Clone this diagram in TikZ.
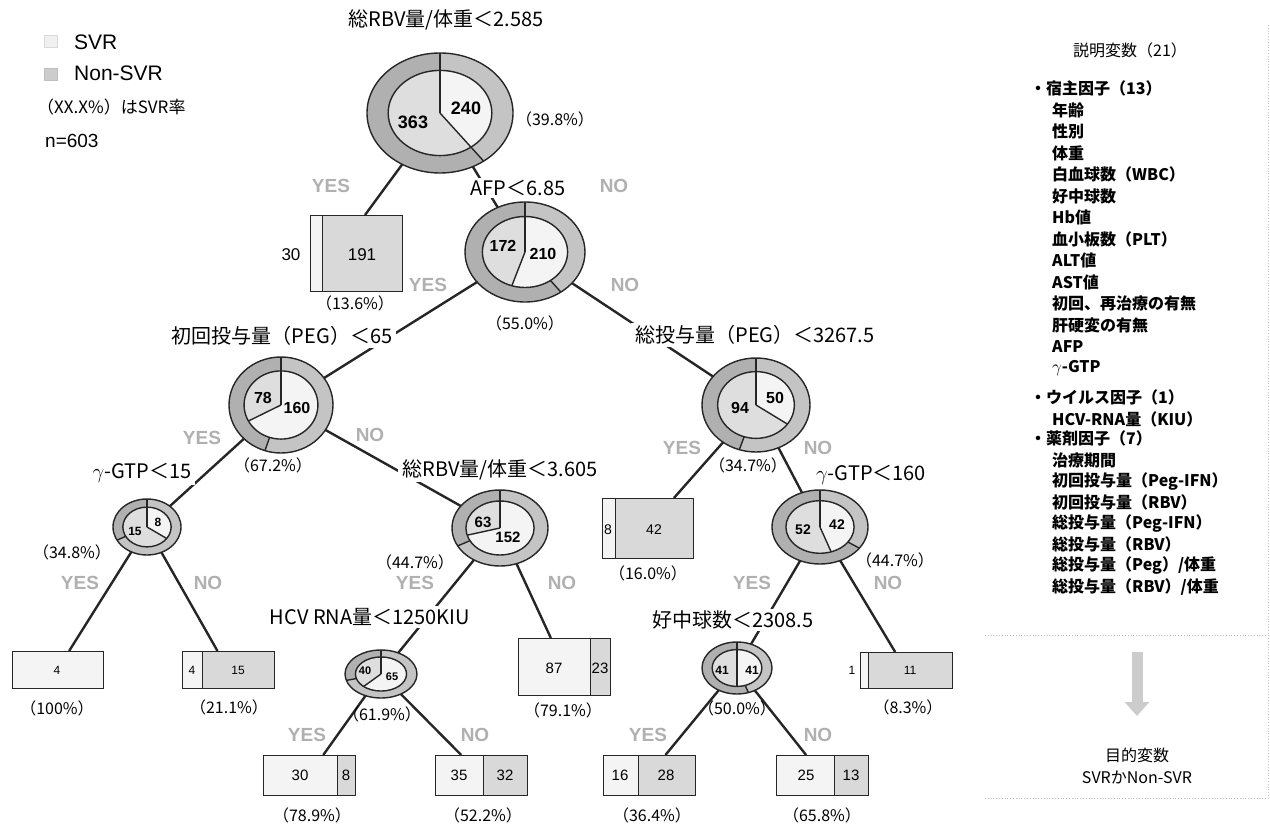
\documentclass[tikz,border=0pt]{standalone}
\usepackage{fontspec}
\setmainfont{Noto Sans CJK JP}
\newfontfamily\latinfont{Liberation Sans}
\usetikzlibrary{shapes.geometric,arrows.meta}

% ring node: name, centre, x radius, y radius, SVR share (%), SVR share of parent (%)
\newcommand{\ringnode}[6]{%
  \node[ringshape, minimum width=2*#3pt, minimum height=2*#4pt] (#1) at #2 {};
  \fill[outer non] (#1.center) ellipse[x radius=#3, y radius=#4];
  \fill[outer svr] (#1.center) -- ++(-90:#3 and #4)
    arc[start angle=-90, delta angle=3.6*#6, x radius=#3, y radius=#4] -- cycle;
  \draw[ring line] (#1.center) -- ++(3.6*#6-90:#3 and #4);
  \fill[inner non] (#1.center) ellipse[x radius=0.71*#3, y radius=0.71*#4];
  \fill[inner svr] (#1.center) -- ++(-90:0.71*#3 and 0.71*#4)
    arc[start angle=-90, delta angle=3.6*#5, x radius=0.71*#3, y radius=0.71*#4] -- cycle;
  \draw[ring line] (#1.center) ellipse[x radius=#3, y radius=#4];
  \draw[ring line] (#1.center) ellipse[x radius=0.71*#3, y radius=0.71*#4];
  \draw[ring line] (#1.center) -- ++(-90:#3 and #4);
  \draw[ring line] (#1.center) -- ++(3.6*#5-90:0.71*#3 and 0.71*#4);
}

% leaf box: name, centre, width, height, width of the SVR part
\newcommand{\leafbox}[5]{%
  \node[leaf, minimum width=#3pt, minimum height=#4pt] (#1) at #2 {};
  \fill[svr box] (#1.north west) rectangle ([xshift=#5pt]#1.south west);
  \draw[box line] ([xshift=#5pt]#1.north west) -- ([xshift=#5pt]#1.south west);
  \draw[box line] (#1.north west) rectangle (#1.south east);
}

\begin{document}
\begin{tikzpicture}[x=1pt, y=-1pt,
    ringshape/.style={ellipse, inner sep=0pt, outer sep=0pt},
    leaf/.style={rectangle, fill=gray!30, inner sep=0pt, outer sep=0pt},
    outer non/.style={fill=gray!62},
    outer svr/.style={fill=gray!46},
    inner non/.style={fill=gray!26},
    inner svr/.style={fill=gray!9},
    svr box/.style={fill=gray!9},
    ring line/.style={line width=1.4pt, black!85},
    box line/.style={line width=0.9pt, black!85},
    edge/.style={line width=2.4pt, black!85},
    cond/.style={fill=white, inner xsep=4pt, inner ysep=2pt, font=\fontsize{20}{20}\selectfont},
    pct/.style={inner sep=0pt, font=\fontsize{16}{16}\selectfont},
    yn/.style={inner sep=0pt, text=gray!62, font=\latinfont\bfseries\fontsize{19}{19}\selectfont},
    num/.style={inner sep=0pt, font=\latinfont\fontsize{#1}{#1}\selectfont},
    bnum/.style={inner sep=0pt, font=\latinfont\bfseries\fontsize{#1}{#1}\selectfont},
    item/.style={anchor=west, inner sep=0pt, font=\bfseries\fontsize{16}{16}\selectfont},
  ]

    \useasboundingbox (0,0) rectangle (1270,826);

    % Legend
    \node[draw=gray!30, fill=gray!12, minimum width=13pt, minimum height=12pt, inner sep=0pt] (legsvr) at (51,41) {};
    \node[draw=gray!50, fill=gray!40, minimum width=13pt, minimum height=12pt, inner sep=0pt] (legnon) at (51,74) {};
    \node[anchor=west, inner sep=0pt, font=\latinfont\fontsize{21}{21}\selectfont] (legsvrtxt) at (74,42) {SVR};
    \node[anchor=west, inner sep=0pt, font=\latinfont\fontsize{21}{21}\selectfont] (legnontxt) at (74,73) {Non-SVR};
    \node[anchor=west, inner sep=0pt, font=\fontsize{17}{17}\selectfont] (legpct) at (37,107) {（XX.X\%）はSVR率};
    \node[anchor=west, inner sep=0pt, font=\latinfont\fontsize{19}{19}\selectfont] (legn) at (45,141) {n=603};

    % Split nodes
    \ringnode{root}{(440,113)}{73}{60}{39.8}{39.8}
    \ringnode{afp}{(525,252)}{60}{50}{55.0}{39.8}
    \ringnode{peg}{(281,405)}{52}{48}{67.2}{55.0}
    \ringnode{tot}{(756,405)}{54}{47}{34.7}{55.0}
    \ringnode{gtpa}{(147,527)}{34}{28}{34.8}{67.2}
    \ringnode{rbv}{(500,528)}{48}{38}{70.7}{67.2}
    \ringnode{gtpb}{(820,527)}{48}{37}{44.7}{34.7}
    \ringnode{hcv}{(381,674)}{36}{24}{61.9}{70.7}
    \ringnode{neu}{(737,668)}{35}{26}{50.0}{44.7}

    % Leaves
    \leafbox{bx1}{(356,253)}{92}{76}{12}
    \leafbox{bx2}{(57.5,669.5)}{91}{37}{91}
    \leafbox{bx3}{(228,669.5)}{92}{37}{20}
    \leafbox{bx4}{(647.5,528)}{91}{60}{13}
    \leafbox{bx5}{(564,666.5)}{92}{57}{72}
    \leafbox{bx6}{(906,670)}{92}{36}{8}
    \leafbox{bx7}{(309,775)}{92}{40}{74}
    \leafbox{bx8}{(481,775)}{92}{40}{48}
    \leafbox{bx9}{(649,775)}{92}{40}{35}
    \leafbox{bx10}{(822,775)}{92}{40}{58}

    % Branches
    \draw[edge] (root) -- ([xshift=9pt]bx1.north);
    \draw[edge] (root) -- (afp);
    \draw[edge] (afp) -- (peg);
    \draw[edge] (afp) -- (tot);
    \draw[edge] (peg) -- (gtpa);
    \draw[edge] (peg) -- (rbv);
    \draw[edge] (gtpa) -- (bx2);
    \draw[edge] (gtpa) -- (bx3);
    \draw[edge] (rbv) -- (hcv);
    \draw[edge] (rbv) -- (bx5);
    \draw[edge] (hcv) -- (bx7);
    \draw[edge] (hcv) -- (bx8);
    \draw[edge] (tot) -- (bx4);
    \draw[edge] (tot) -- (gtpb);
    \draw[edge] (gtpb) -- (neu);
    \draw[edge] (gtpb) -- (bx6);
    \draw[edge] (neu) -- (bx9);
    \draw[edge] (neu) -- (bx10);

    % Split conditions
    \node[cond] (c0) at (446,20) {総RBV量/体重＜2.585};
    \node[cond] (c1) at (518,188) {AFP＜6.85};
    \node[cond] (c2) at (282,336) {初回投与量（PEG）＜65};
    \node[cond] (c3) at (755,335) {総投与量（PEG）＜3267.5};
    \node[cond] (c4) at (142,473) {$\gamma$-GTP＜15};
    \node[cond] (c5) at (500,470) {総RBV量/体重＜3.605};
    \node[cond] (c6) at (871,475) {$\gamma$-GTP＜160};
    \node[cond] (c7) at (370,617) {HCV RNA量＜1250KIU};
    \node[cond] (c8) at (733,620) {好中球数＜2308.5};

    % Counts in the rings
    \node[bnum=18] (r363) at (413,122) {363};
    \node[bnum=18] (r240) at (466,108) {240};
    \node[bnum=16] (a172) at (503,246) {172};
    \node[bnum=16] (a210) at (543,254) {210};
    \node[bnum=16] (p78) at (263,398) {78};
    \node[bnum=16] (p160) at (297,408) {160};
    \node[bnum=16] (t94) at (740,408) {94};
    \node[bnum=16] (t50) at (775,398) {50};
    \node[bnum=12] (g15) at (135,531) {15};
    \node[bnum=12] (g8) at (158,522) {8};
    \node[bnum=15] (v63) at (483,522) {63};
    \node[bnum=15] (v152) at (508,537) {152};
    \node[bnum=14] (k52) at (803,530) {52};
    \node[bnum=14] (k42) at (837,525) {42};
    \node[bnum=11] (h40) at (365,671) {40};
    \node[bnum=11] (h65) at (392,677) {65};
    \node[bnum=12] (n41a) at (722,670) {41};
    \node[bnum=12] (n41b) at (752,670) {41};

    % Counts in the leaves
    \node[num=17] (l30) at (291,255) {30};
    \node[num=17] (l191) at (362,255) {191};
    \node[num=12] (l4a) at (57,670) {4};
    \node[num=12] (l4b) at (192,670) {4};
    \node[num=12] (l15) at (238,670) {15};
    \node[num=14] (l8a) at (608,530) {8};
    \node[num=14] (l42) at (654,530) {42};
    \node[num=15] (l87) at (554,668) {87};
    \node[num=15] (l23) at (600,668) {23};
    \node[num=12] (l1) at (852,670) {1};
    \node[num=12] (l11) at (910,670) {11};
    \node[num=15] (l30b) at (300,775) {30};
    \node[num=15] (l8b) at (346,775) {8};
    \node[num=15] (l35) at (459,775) {35};
    \node[num=15] (l32) at (505,775) {32};
    \node[num=15] (l16) at (620,775) {16};
    \node[num=15] (l28) at (666,775) {28};
    \node[num=15] (l25) at (806,775) {25};
    \node[num=15] (l13) at (851,775) {13};

    % SVR rates
    \node[pct] (q0) at (555,119) {（39.8\%）};
    \node[pct] (q1) at (355,303) {（13.6\%）};
    \node[pct] (q2) at (525,323) {（55.0\%）};
    \node[pct] (q3) at (273,465) {（67.2\%）};
    \node[pct] (q4) at (748,465) {（34.7\%）};
    \node[pct] (q5) at (72,552) {（34.8\%）};
    \node[pct] (q6) at (415,562) {（44.7\%）};
    \node[pct] (q7) at (895,560) {（44.7\%）};
    \node[pct] (q8) at (648,573) {（16.0\%）};
    \node[pct] (q9) at (57,708) {（100\%）};
    \node[pct] (q10) at (229,707) {（21.1\%）};
    \node[pct] (q11) at (382,714) {（61.9\%）};
    \node[pct] (q12) at (563,710) {（79.1\%）};
    \node[pct] (q13) at (737,708) {（50.0\%）};
    \node[pct] (q14) at (908,707) {（8.3\%）};
    \node[pct] (q15) at (312,815) {（78.9\%）};
    \node[pct] (q16) at (483,815) {（52.2\%）};
    \node[pct] (q17) at (652,815) {（36.4\%）};
    \node[pct] (q18) at (822,815) {（65.8\%）};

    % YES / NO
    \node[yn] (y0) at (331,186) {YES};   \node[yn] (n0) at (614,186) {NO};
    \node[yn] (y1) at (428,285) {YES};   \node[yn] (n1) at (625,285) {NO};
    \node[yn] (y2) at (202,438) {YES};   \node[yn] (n2) at (370,435) {NO};
    \node[yn] (y3) at (682,448) {YES};   \node[yn] (n3) at (818,448) {NO};
    \node[yn] (y4) at (80,583) {YES};    \node[yn] (n4) at (208,583) {NO};
    \node[yn] (y5) at (415,583) {YES};   \node[yn] (n5) at (562,583) {NO};
    \node[yn] (y6) at (752,583) {YES};   \node[yn] (n6) at (888,583) {NO};
    \node[yn] (y7) at (307,735) {YES};   \node[yn] (n7) at (475,735) {NO};
    \node[yn] (y8) at (648,735) {YES};   \node[yn] (n8) at (818,735) {NO};

    % Explanatory variables
    \node[inner sep=0pt, font=\fontsize{16}{16}\selectfont] (expl) at (1130,50) {説明変数（21）};
    \node[item] (host) at (1030,88) {・宿主因子（13）};
    \foreach \txt [count=\i from 0] in {年齢, 性別, 体重, 白血球数（WBC）, 好中球数, Hb値,
        血小板数（PLT）, ALT値, AST値, 初回、再治療の有無, 肝硬変の有無, AFP, $\gamma$-GTP}
      \node[item] (host\i) at (1052,110+21.5*\i) {\txt};
    \node[item] (virus) at (1030,397) {・ウイルス因子（1）};
    \node[item] (virus0) at (1052,419) {HCV-RNA量（KIU）};
    \node[item] (drug) at (1030,438) {・薬剤因子（7）};
    \foreach \txt [count=\i from 0] in {治療期間, 初回投与量（Peg-IFN）, 初回投与量（RBV）,
        総投与量（Peg-IFN）, 総投与量（RBV）, 総投与量（Peg）/体重, 総投与量（RBV）/体重}
      \node[item] (drug\i) at (1052,460+21.2*\i) {\txt};

    % Target variable
    \draw[gray!55, dotted, line width=0.8pt] (985,635) -- (1270,635);
    \coordinate (arrtop) at (1137,652);
    \coordinate (arrbot) at (1137,716);
    \draw[line width=11pt, gray!40, -{Triangle[width=24pt, length=14pt]}] (arrtop) -- (arrbot);
    \node[inner sep=0pt, font=\fontsize{16}{16}\selectfont] (target) at (1137,755) {目的変数};
    \node[inner sep=0pt, font=\fontsize{16}{16}\selectfont] (target2) at (1137,777) {SVRかNon-SVR};
    \draw[gray!55, dotted, line width=0.8pt] (985,798) -- (1270,798);
    \draw[gray!45, dotted, line width=0.8pt] (1268,25) -- (1268,800);

\end{tikzpicture}
\end{document}
